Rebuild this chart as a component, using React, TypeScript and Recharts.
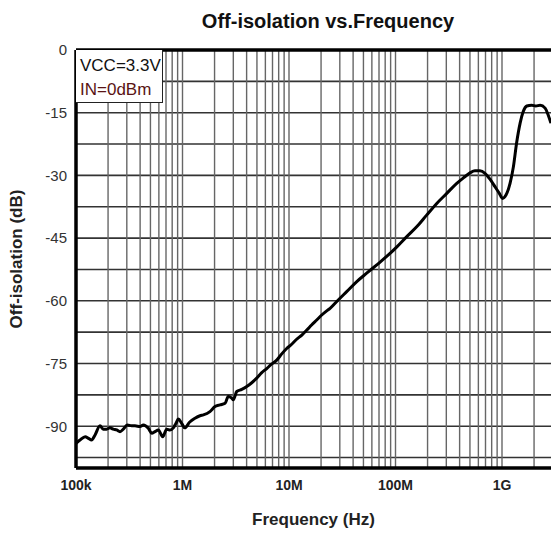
import React from 'react';
import { LineChart, Line, XAxis, YAxis, CartesianGrid, ReferenceLine } from 'recharts';

// Frequency points (Hz)
const freqHz = [
  1.0e5, 1.09e5, 1.22e5, 1.31e5, 1.40e5, 1.51e5, 1.68e5, 1.80e5, 1.94e5, 2.08e5,
  2.24e5, 2.41e5, 2.59e5, 2.78e5, 3.03e5, 3.33e5, 3.58e5, 3.99e5, 4.29e5, 4.78e5,
  5.14e5, 5.52e5, 5.93e5, 6.52e5, 7.10e5, 7.64e5, 8.20e5, 8.69e5, 9.14e5, 9.82e5,
  1.05e6, 1.17e6, 1.31e6, 1.46e6, 1.57e6, 1.81e6, 2.02e6, 2.25e6, 2.51e6, 2.69e6,
  2.90e6, 3.00e6, 3.23e6, 3.60e6, 4.01e6, 4.47e6, 4.98e6, 5.55e6, 6.18e6, 6.89e6,
  7.67e6, 8.55e6, 9.51e6, 1.06e7, 1.18e7, 1.32e7, 1.47e7, 1.63e7, 1.82e7, 2.03e7,
  2.26e7, 2.43e7, 2.90e7, 3.48e7, 4.33e7, 5.36e7, 6.67e7, 8.26e7, 1.03e8, 1.27e8,
  1.58e8, 1.96e8, 2.44e8, 3.03e8, 3.76e8, 4.34e8, 5.01e8, 5.57e8, 6.21e8, 6.92e8,
  7.71e8, 8.59e8, 9.44e8, 1.01e9, 1.09e9, 1.19e9, 1.28e9, 1.37e9, 1.48e9, 1.58e9,
  1.71e9, 1.90e9, 2.08e9, 2.28e9, 2.54e9, 2.72e9, 2.88e9,
];

// Off-isolation (dB) at each frequency point
const offIsolationDb = [
  -94.1, -93.3, -92.5, -92.9, -93.3, -92.1, -89.9, -90.7, -90.7, -90.4,
  -90.7, -90.9, -91.3, -90.7, -89.7, -89.9, -89.9, -90.1, -89.7, -90.5,
  -91.7, -91.3, -90.9, -92.5, -90.7, -90.9, -90.4, -89.3, -88.3, -89.3,
  -90.4, -89.0, -88.1, -87.5, -87.3, -86.5, -85.3, -84.9, -84.5, -82.9,
  -83.3, -83.7, -81.7, -81.2, -80.5, -79.6, -78.5, -77.2, -76.2, -75.1,
  -74.2, -72.7, -71.4, -70.4, -69.2, -68.2, -67.0, -65.8, -64.6, -63.4,
  -62.4, -61.8, -59.8, -57.8, -55.4, -53.4, -51.4, -49.4, -47.1, -44.7,
  -42.3, -39.5, -36.7, -34.3, -31.9, -30.6, -29.4, -28.9, -28.9, -29.5,
  -30.9, -32.7, -34.3, -35.5, -34.7, -31.9, -27.9, -22.3, -17.5, -14.8,
  -13.4, -13.2, -13.4, -13.2, -13.9, -15.6, -17.5,
];

// Axis ticks
const xDecades = [1e5, 1e6, 1e7, 1e8, 1e9];
const xDecadeLabels = ['100k', '1M', '10M', '100M', '1G'];
const xMultipliers = [1, 2, 3, 4, 5, 6, 7, 8, 9];
const xTicks = [...xDecades.flatMap((d) => xMultipliers.map((m) => m * d)), 1e10];
const yTicks = [0, -7.5, -15, -22.5, -30, -37.5, -45, -52.5, -60, -67.5, -75, -82.5, -90, -97.5];

const data = freqHz.map((f, i) => ({ f, db: offIsolationDb[i] }));

const FONT = '"Liberation Sans", Arial, Helvetica, sans-serif';

const xLabel = (v: number) => {
  const i = xDecades.indexOf(v);
  return i >= 0 ? xDecadeLabels[i] : '';
};
const yLabel = (v: number) => (v % 15 === 0 ? String(v === 0 ? 0 : v) : '');

export default function App() {
  return (
    <div
      style={{
        position: 'absolute',
        left: 8,
        top: 8,
        width: 543,
        height: 525,
        overflow: 'hidden',
        fontFamily: FONT,
        background: '#fff',
      }}
    >
      <LineChart
        width={620}
        height={525}
        data={data}
        margin={{ top: 42, right: 19.5, bottom: 35, left: 0 }}
      >
        <CartesianGrid vertical={false} stroke="#333" strokeWidth={1.6} />
        <CartesianGrid horizontal={false} stroke="#666" strokeWidth={1.4} />
        <XAxis
          type="number"
          dataKey="f"
          scale="log"
          domain={[1e5, 1e10]}
          allowDataOverflow
          ticks={xTicks}
          interval={0}
          tickFormatter={xLabel}
          tickLine={false}
          tickSize={6}
          tickMargin={6}
          height={30}
          axisLine={{ stroke: '#000', strokeWidth: 3.5 }}
          tick={{ fontSize: 14, fontWeight: 700, fill: '#222', fontFamily: FONT }}
          label={{
            content: () => (
              <text
                x={305.5}
                y={517}
                textAnchor="middle"
                fontSize={17}
                fontWeight={700}
                fill="#222"
                fontFamily={FONT}
              >
                Frequency (Hz)
              </text>
            ),
          }}
        />
        <YAxis
          type="number"
          domain={[-100, 0]}
          ticks={yTicks}
          interval={0}
          tickFormatter={yLabel}
          tickLine={false}
          tickSize={6}
          tickMargin={3}
          width={68}
          axisLine={{ stroke: '#000', strokeWidth: 3.5 }}
          tick={{ fontSize: 15, fill: '#333', fontFamily: FONT }}
          label={{
            content: () => (
              <text
                x={13.7}
                y={251}
                transform="rotate(-90 13.7 251)"
                textAnchor="middle"
                fontSize={17}
                fontWeight={700}
                fill="#222"
                fontFamily={FONT}
              >
                Off-isolation (dB)
              </text>
            ),
          }}
        />
        <ReferenceLine y={0} stroke="#000" strokeWidth={3.5} />
        <ReferenceLine x={1e10} stroke="#000" strokeWidth={3.5} />
        <Line
          type="monotone"
          dataKey="db"
          stroke="#000"
          strokeWidth={3}
          dot={false}
          isAnimationActive={false}
        />
      </LineChart>
      <div
        style={{
          position: 'absolute',
          left: 0,
          top: 0,
          width: 543,
          textAlign: 'center',
          pointerEvents: 'none',
        }}
      >
        <div
          style={{
            position: 'absolute',
            left: 320 - 200,
            width: 400,
            top: 0,
            fontSize: 20,
            fontWeight: 700,
            color: '#111',
            lineHeight: '26px',
            textAlign: 'center',
          }}
        >
          Off-isolation vs.Frequency
        </div>
      </div>
      <div
        style={{
          position: 'absolute',
          left: 68,
          top: 42,
          width: 87,
          height: 53,
          boxSizing: 'border-box',
          background: '#fff',
          border: '1.5px solid #222',
          borderTop: 'none',
          borderLeft: 'none',
          fontSize: 17,
          lineHeight: '27px',
          paddingLeft: 4,
          paddingTop: 6,
          whiteSpace: 'nowrap',
        }}
      >
        <div style={{ color: '#111', lineHeight: '20px' }}>VCC=3.3V</div>
        <div style={{ color: '#5a1414', lineHeight: '27px' }}>IN=0dBm</div>
      </div>
    </div>
  );
}
